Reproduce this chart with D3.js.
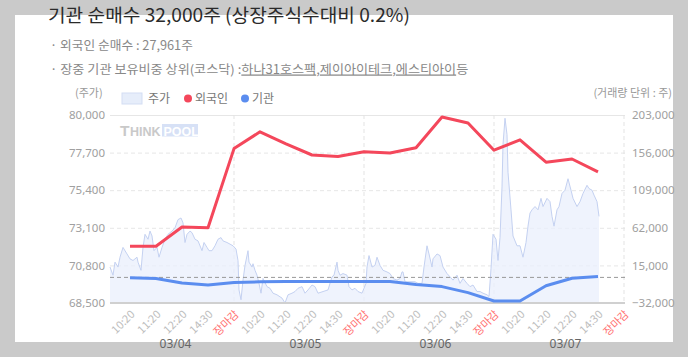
<!DOCTYPE html>
<html><head><meta charset="utf-8">
<script src="https://cdn.jsdelivr.net/npm/d3@7"></script>
<style>
html,body{margin:0;padding:0;background:#cacaca;}
svg{display:block;font-family:"Noto Sans CJK KR","Noto Sans",sans-serif;}
</style></head><body>
<svg id="c" width="688" height="357"></svg>
<script>
// ---------- data ----------
const days = ["03/04", "03/05", "03/06", "03/07"];
const slotLabels = ["10:20", "11:20", "12:20", "14:30", "장마감"];
// cumulative net buying (shares), one value per time slot
const foreign = [39000, 39000, 63000, 62000, 161000, 182000, 167000, 153000, 151000, 157000,
                 155500, 162000, 200500, 193000, 159000, 172000, 144000, 148000, 132000];
const inst = [-500, -1500, -7000, -9500, -6500, -5500, -5000, -5000, -5000, -5000,
              -5000, -8750, -11500, -19000, -29500, -29500, -10500, -1000, 1250];
// intraday price: [bar index, price]
const priceSeries = [[0,70700],[3,70200],[5,71000],[8,70700],[10,71300],[13,71900],[17,71500],[20,71200],[23,71100],[27,71300],[28,71000],[31,70500],[33,71900],[35,72700],[38,72400],[40,72900],[42,72600],[44,71700],[47,71900],[49,71300],[52,71900],[55,72400],[58,72700],[62,72900],[65,73100],[68,73600],[71,73700],[73,73400],[75,72200],[77,72700],[80,72900],[82,72800],[85,72400],[88,72300],[92,71700],[94,72200],[97,71900],[99,71700],[102,71700],[105,72000],[108,72400],[111,72500],[113,72300],[117,72200],[120,72100],[123,72000],[126,71800],[128,71100],[129,69300],[131,68700],[133,69900],[135,70800],[138,71700],[139,71000],[142,70700],[143,70900],[145,70500],[147,70200],[149,69700],[151,69100],[153,70000],[157,69500],[160,69400],[163,69100],[167,69000],[172,68800],[175,68500],[178,69000],[182,69100],[185,69200],[188,69400],[192,69500],[195,69100],[198,69300],[202,69600],[205,69500],[208,69100],[213,69200],[218,69300],[222,70100],[224,70200],[227,71000],[228,70500],[230,70200],[233,70300],[237,70200],[239,69500],[242,69300],[245,69400],[248,69200],[252,69100],[254,69400],[256,69700],[257,70700],[259,71400],[262,70700],[265,70800],[267,71300],[270,70800],[273,70500],[277,70400],[280,70300],[283,70000],[287,69900],[290,70000],[292,70400],[293,70400],[295,69800],[300,69800],[305,69800],[308,69700],[312,69700],[314,70700],[317,72000],[319,71500],[322,70700],[323,71200],[327,71500],[330,71400],[333,70700],[337,70300],[340,70100],[343,69900],[347,70200],[350,69700],[353,70000],[357,69700],[360,69500],[363,69600],[367,69200],[370,69200],[373,69100],[377,69000],[379,68900],[381,70600],[383,72700],[386,72400],[388,71100],[390,72500],[392,75600],[393,78200],[395,79800],[397,78800],[398,76500],[401,74200],[403,72600],[407,72000],[410,72000],[413,71300],[416,72200],[418,73200],[420,74000],[422,74200],[425,74400],[428,74200],[431,74900],[433,74400],[437,74900],[440,74700],[442,73800],[444,73200],[447,74200],[449,74400],[452,75200],[455,75400],[458,76100],[461,75400],[463,74900],[467,74400],[470,74700],[473,75200],[477,75700],[479,75500],[482,75400],[484,75100],[487,74700],[489,73800]];
const leftTicks = [68500, 70800, 73100, 75400, 77700, 80000];
const rightTicks = [-32000, 15000, 62000, 109000, 156000, 203000];

// ---------- layout ----------
const svg = d3.select("#c");
const L = 110, R = 625, T = 115, B = 303;
const barsPerSlot = 26, firstSlotBar = 20;
const slotBar = k => firstSlotBar + barsPerSlot * k;
const nSlots = days.length * slotLabels.length;

const x = d3.scaleLinear().domain([0, 515]).range([L, R]);
const yL = d3.scaleLinear().domain([68500, 80000]).range([B, T]);
const yR = d3.scaleLinear().domain([-32000, 203000]).range([B, T]);

// white panel
svg.append("rect").attr("x", 15).attr("y", 15).attr("width", 658).attr("height", 327).attr("fill", "#fff");

// helper: text fitted to a target width via horizontal scale
function fitted(x0, y0, width, size, fill, build) {
  const g = svg.append("g");
  const t = g.append("text").attr("x", 0).attr("y", 0).attr("font-size", size).attr("fill", fill);
  build(t);
  const w = t.node().getComputedTextLength();
  g.attr("transform", `translate(${x0},${y0}) scale(${width / w},1)`);
  return t;
}

// title & info
fitted(48, 22, 362, 18.5, "#2a2a2a", t => t.text("기관 순매수 32,000주 (상장주식수대비 0.2%)"));
fitted(50, 49.5, 143, 12.5, "#888", t => t.text("· 외국인 순매수 : 27,961주"));
fitted(50, 73.5, 419, 12.5, "#888", t => {
  t.append("tspan").text("· 장중 기관 보유비중 상위(코스닥) :");
  t.append("tspan").attr("text-decoration", "underline").text("하나31호스팩");
  t.append("tspan").text(",");
  t.append("tspan").attr("text-decoration", "underline").text("제이아이테크");
  t.append("tspan").text(",");
  t.append("tspan").attr("text-decoration", "underline").text("에스티아이");
  t.append("tspan").text("등");
});

// legend
svg.append("text").attr("x", 75).attr("y", 97).attr("font-size", 11).attr("fill", "#999").text("(주가)");
svg.append("text").attr("x", 672).attr("y", 97).attr("font-size", 11).attr("fill", "#999")
  .attr("text-anchor", "end").text("(거래량 단위 : 주)");
const lg = svg.append("g").attr("font-size", 12).attr("fill", "#777");
lg.append("rect").attr("x", 122).attr("y", 93).attr("width", 20).attr("height", 11)
  .attr("fill", "#e6edfa").attr("stroke", "#d3ddf3");
lg.append("text").attr("x", 148).attr("y", 102.5).text("주가");
lg.append("circle").attr("cx", 188).attr("cy", 98.5).attr("r", 4).attr("fill", "#f4475b");
lg.append("text").attr("x", 195).attr("y", 102.5).text("외국인");
lg.append("circle").attr("cx", 245).attr("cy", 98.5).attr("r", 4).attr("fill", "#5b8def");
lg.append("text").attr("x", 252).attr("y", 102.5).text("기관");

// horizontal grid
const grid = svg.append("g").attr("transform", `translate(${L},0)`)
  .call(d3.axisLeft(yL).tickValues(leftTicks).tickSize(-(R - L)).tickFormat(""));
grid.select(".domain").remove();
grid.selectAll("line").attr("stroke", "#e6e6e6")
  .attr("stroke-dasharray", d => (d === 80000 || d === 68500) ? null : "4,3");

// vertical grid at market close
const closeBars = d3.range(days.length).map(d => slotBar(d * slotLabels.length + slotLabels.length - 1));
svg.append("g").selectAll("line").data(closeBars).join("line")
  .attr("x1", d => x(d)).attr("x2", d => x(d)).attr("y1", T).attr("y2", B)
  .attr("stroke", "#e3e3e3").attr("stroke-dasharray", "4,3");

// watermark
const wm = svg.append("g");
const wmt = wm.append("text").attr("x", 120).attr("y", 136).attr("font-family", "Liberation Sans, Arial, sans-serif")
  .attr("font-weight", "bold").attr("fill", "#c9c9c9");
wmt.append("tspan").attr("font-size", 15.5).text("T");
wmt.append("tspan").attr("font-size", 12.5).attr("dx", 0.5).text("HINK");
wm.append("rect").attr("x", 162).attr("y", 124).attr("width", 36).attr("height", 12.5).attr("fill", "#d7e1f6");
wm.append("text").attr("x", 163.5).attr("y", 135.5).attr("font-family", "Liberation Sans, Arial, sans-serif")
  .attr("font-weight", "bold").attr("font-size", 12.5).attr("fill", "#fff").text("POOL");

// price area
const area = d3.area().x(d => x(d[0])).y0(yL(68500)).y1(d => yL(d[1]));
svg.append("path").datum(priceSeries).attr("d", area).attr("fill", "#e9effc").attr("fill-opacity", 0.75);
const pline = d3.line().x(d => x(d[0])).y(d => yL(d[1]));
svg.append("path").datum(priceSeries).attr("d", pline).attr("fill", "none")
  .attr("stroke", "#c4d1f1").attr("stroke-width", 1);

// zero line (right axis)
svg.append("line").attr("x1", L).attr("x2", R).attr("y1", yR(0)).attr("y2", yR(0))
  .attr("stroke", "#999").attr("stroke-dasharray", "4,3").attr("stroke-width", 1);

// bottom axis line
svg.append("line").attr("x1", L).attr("x2", R).attr("y1", B).attr("y2", B)
  .attr("stroke", "#d0d0d0").attr("stroke-width", 2);

// foreign & institution lines
const sline = d3.line().x((d, i) => x(slotBar(i))).y(d => yR(d));
svg.append("path").datum(inst).attr("d", sline).attr("fill", "none")
  .attr("stroke", "#5b8def").attr("stroke-width", 3).attr("stroke-linejoin", "round");
svg.append("path").datum(foreign).attr("d", sline).attr("fill", "none")
  .attr("stroke", "#f4475b").attr("stroke-width", 3).attr("stroke-linejoin", "round");

// left axis labels
const la = svg.append("g").attr("transform", `translate(${L},0)`)
  .call(d3.axisLeft(yL).tickValues(leftTicks).tickSize(0).tickPadding(5).tickFormat(d3.format(",")));
la.select(".domain").remove();
la.selectAll("text").attr("font-family", "'Noto Sans', sans-serif").attr("font-size", 11.5).attr("fill", "#a0a0a0");

// right axis labels
const ra = svg.append("g").attr("transform", `translate(${R},0)`)
  .call(d3.axisRight(yR).tickValues(rightTicks).tickSize(0).tickPadding(7).tickFormat(d3.format(",")));
ra.select(".domain").remove();
ra.selectAll("text").attr("font-family", "'Noto Sans', sans-serif").attr("font-size", 11.5).attr("fill", "#a0a0a0");

// x axis labels
const slotIdx = d3.range(nSlots);
const xa = svg.append("g").attr("transform", `translate(0,${B})`)
  .call(d3.axisBottom(x).tickValues(slotIdx.map(slotBar)).tickSize(0)
    .tickFormat((d, i) => slotLabels[i % slotLabels.length]));
xa.select(".domain").remove();
xa.selectAll("text")
  .attr("font-size", 11).attr("font-family", "'Noto Sans CJK KR', 'Noto Sans', sans-serif")
  .attr("fill", (d, i) => (i % slotLabels.length === slotLabels.length - 1) ? "#ff7070" : "#bdbdbd")
  .attr("text-anchor", "end").attr("dy", null).attr("y", 0)
  .attr("transform", "translate(5,12) rotate(-45)");

// date labels
svg.append("g").selectAll("text").data(days).join("text")
  .attr("x", (d, i) => x(slotBar(i * slotLabels.length + 1.75)))
  .attr("y", 348).attr("text-anchor", "middle").attr("font-size", 12)
  .attr("font-family", "'Noto Sans', sans-serif").attr("fill", "#666").text(d => d);
</script>
</body></html>
